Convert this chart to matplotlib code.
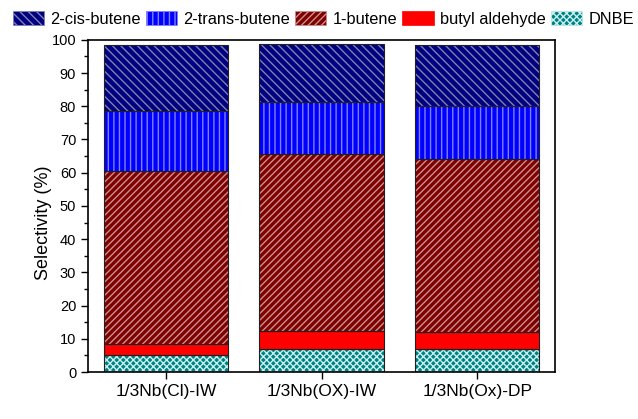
import matplotlib
matplotlib.use("Agg")
import matplotlib.pyplot as plt
from matplotlib.patches import Patch
from matplotlib.ticker import MultipleLocator

plt.rcParams['font.family'] = ['Liberation Sans', 'DejaVu Sans']
plt.rcParams['hatch.linewidth'] = 1.0

# data
samples = ['1/3Nb(Cl)-IW', '1/3Nb(OX)-IW', '1/3Nb(Ox)-DP']
dnbe = [5.0, 7.0, 7.0]
butyl = [3.3, 5.5, 5.0]
butene1 = [52.2, 53.0, 52.0]
trans2 = [18.0, 15.8, 16.0]
cis2 = [19.8, 17.4, 18.5]

series = [
    ('DNBE', dnbe, '#008080', '#c8f0f0', 'xxxxx'),
    ('butyl aldehyde', butyl, '#ff0000', '#ff0000', None),
    ('1-butene', butene1, '#800000', '#c89090', '/////'),
    ('2-trans-butene', trans2, '#0000ff', '#8080ff', '|||'),
    ('2-cis-butene', cis2, '#000080', '#8080b0', '\\\\\\\\'),
]

fig = plt.figure(figsize=(6.38, 4.19), dpi=100)
ax = fig.add_axes([0.138, 0.112, 0.732, 0.793])

x = list(range(len(samples)))
bottom = [0.0] * len(samples)
handles = {}
for name, vals, fc, hc, hatch in series:
    ax.bar(x, vals, 0.8, bottom=bottom, color=fc, edgecolor=hc, hatch=hatch, linewidth=0)
    ax.bar(x, vals, 0.8, bottom=bottom, fill=False, edgecolor='#202020', linewidth=0.8)
    handles[name] = Patch(facecolor=fc, edgecolor=hc, hatch=hatch, linewidth=0.5)
    bottom = [b + v for b, v in zip(bottom, vals)]

ax.set_xlim(-0.5, 2.5)
ax.set_ylim(0, 100)
ax.set_xticks(x)
ax.set_xticklabels(samples, fontsize=12.5)
ax.yaxis.set_major_locator(MultipleLocator(10))
ax.yaxis.set_minor_locator(MultipleLocator(5))
ax.tick_params(axis='y', labelsize=10.5, direction='out', length=5, width=1)
ax.tick_params(axis='y', which='minor', length=3, width=1)
ax.tick_params(axis='x', direction='out', length=5, width=1)
ax.set_ylabel('Selectivity (%)', fontsize=13)
ax.yaxis.set_label_coords(-0.078, 0.45)
for s in ax.spines.values():
    s.set_linewidth(1.2)

order = ['2-cis-butene', '2-trans-butene', '1-butene', 'butyl aldehyde', 'DNBE']
fig.legend([handles[n] for n in order], order, loc='upper center', bbox_to_anchor=(0.507, 1.0),
           ncol=5, frameon=False, fontsize=11.8, handlelength=1.9, handleheight=0.85,
           handletextpad=0.4, columnspacing=0.3, borderaxespad=0.3)

fig.savefig('out.png', dpi=100)
